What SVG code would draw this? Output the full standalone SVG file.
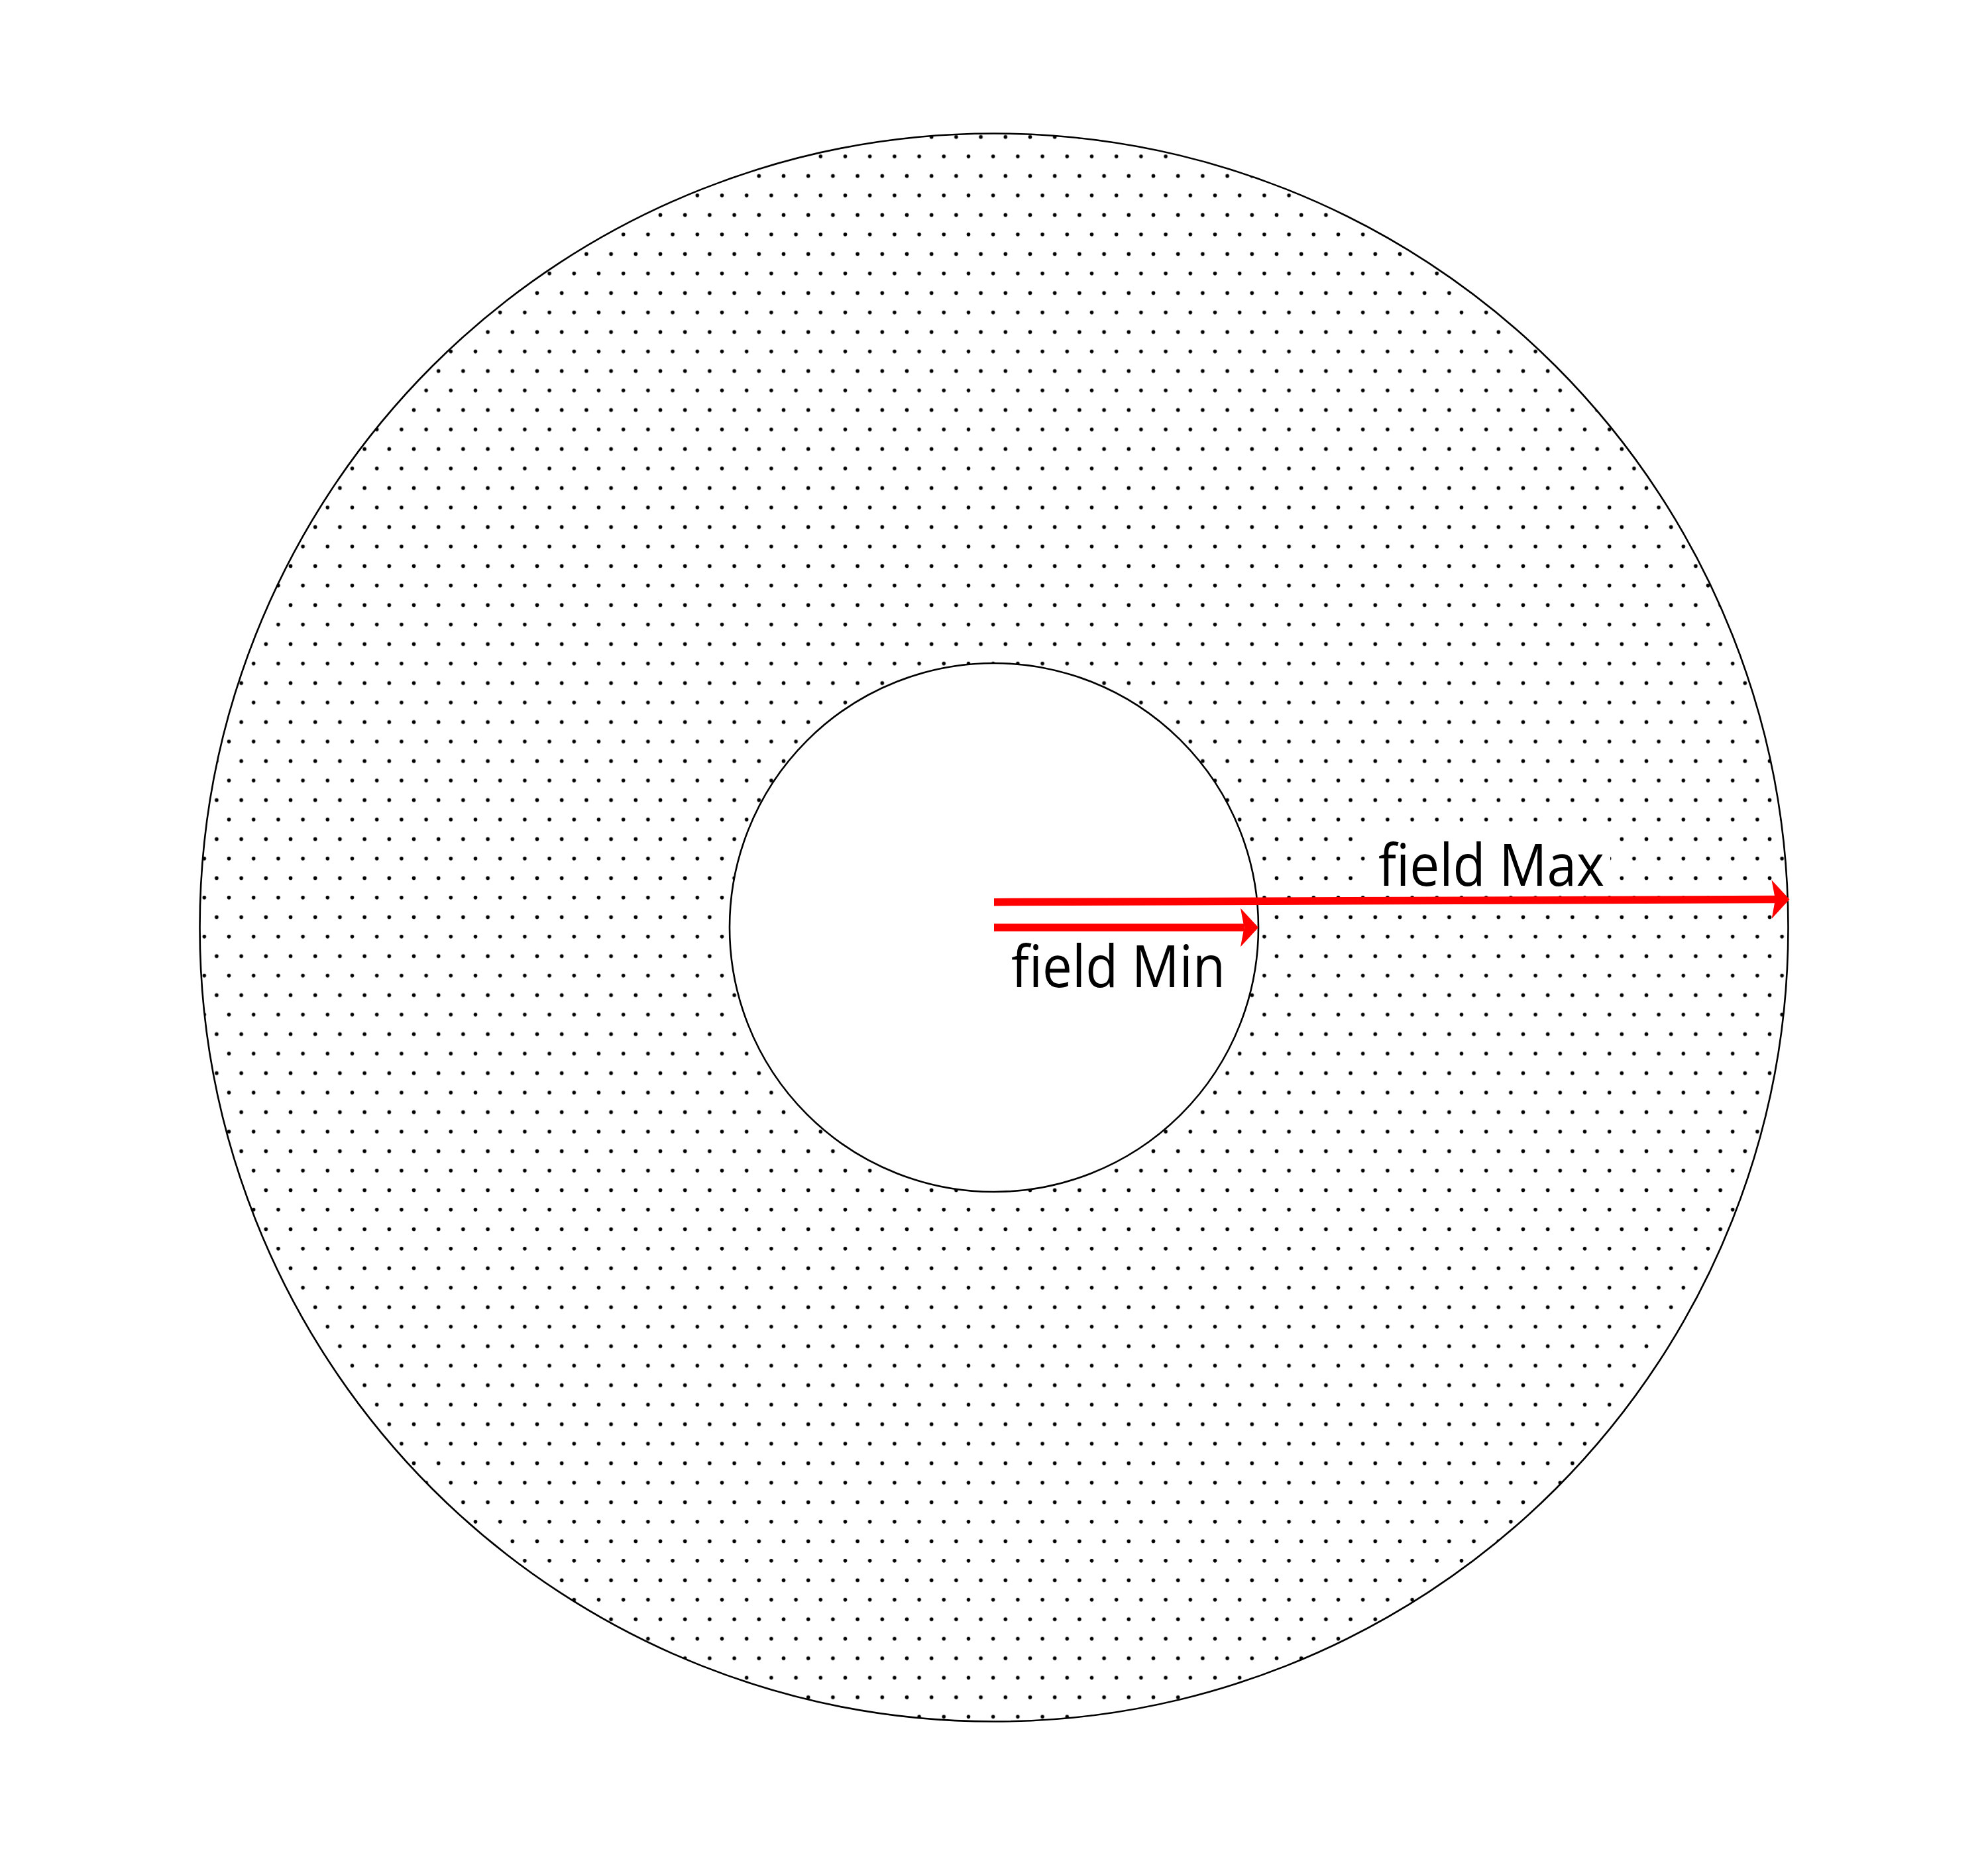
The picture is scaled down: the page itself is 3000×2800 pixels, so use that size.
<svg xmlns="http://www.w3.org/2000/svg" width="3000" height="2800" viewBox="0 0 3000 2800">
<style>
.ring{stroke:#000;stroke-width:2.6}
.arrow{stroke:#ff0000;stroke-width:11.5;fill:none;marker-end:url(#head)}
.label{font-family:"Open Sans","Noto Sans","Liberation Sans",sans-serif;font-size:87px;fill:#000}
</style>
<defs>
<pattern id="dots" patternUnits="userSpaceOnUse" x="1396.4" y="199.34" width="37.2" height="58.88">
<circle cx="9.3" cy="7.36" r="2.8" fill="#000"/>
<circle cx="27.9" cy="36.8" r="2.8" fill="#000"/>
</pattern>
<marker id="head" markerUnits="userSpaceOnUse" viewBox="-10 -35 40 70" refX="0" refY="0" markerWidth="40" markerHeight="70" orient="auto" overflow="visible">
<path d="M 21.5 0 L -5.5 -29.2 L 0 0 L -5.5 29.2 Z" fill="#ff0000"/>
</marker>
</defs>
<rect width="3000" height="2800" fill="#fff"/>
<g id="outer-field">
<circle class="ring" cx="1500" cy="1400" r="1198.5" fill="url(#dots)"/>
</g>
<g id="inner-field">
<circle class="ring" cx="1500" cy="1400" r="399" fill="#fff"/>
</g>
<g id="connectors">
<path id="arrow-max" class="arrow" d="M 1500 1361.7 L 2679 1357.5"/>
<path id="arrow-min" class="arrow" d="M 1500 1400 L 1877.5 1400"/>
</g>
<g id="label-max">
<rect x="2064" y="1250" width="366" height="92" fill="#fff"/>
<text class="label" x="2080" y="1336.5" textLength="341" lengthAdjust="spacingAndGlyphs">field Max</text>
</g>
<g id="label-min">
<text class="label" x="1526" y="1489.5" textLength="323" lengthAdjust="spacingAndGlyphs">field Min</text>
</g>
</svg>
